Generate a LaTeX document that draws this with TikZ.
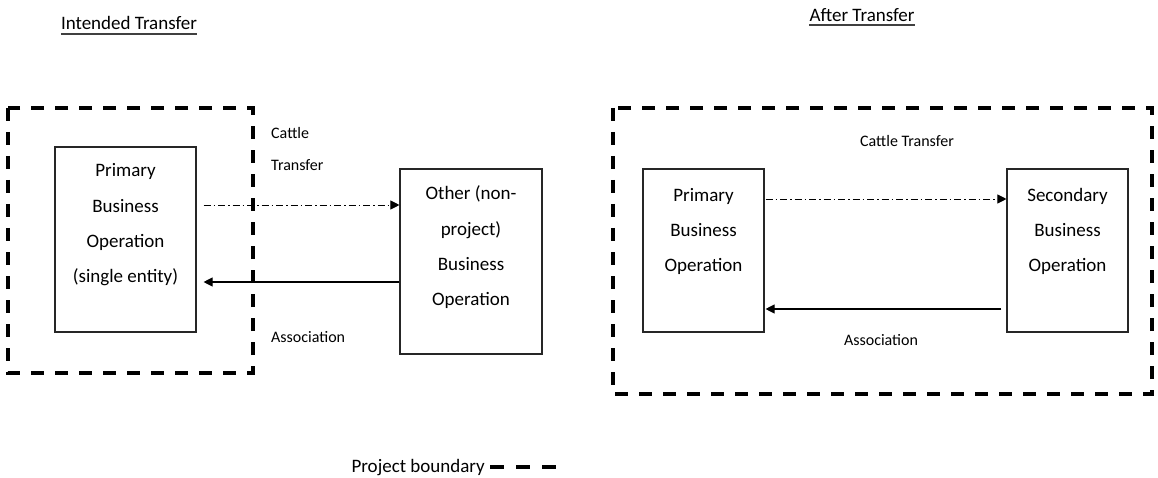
\documentclass[tikz,border=0pt]{standalone}
\usepackage{fontspec}
\setmainfont{Carlito}
\usetikzlibrary{arrows.meta}
\begin{document}
\begin{tikzpicture}[x=1pt,y=-1pt,
  boundary/.style={line width=3.6pt, dash pattern=on 13pt off 11pt},
  opbox/.style={draw=black!85, line width=1.1pt, inner sep=0pt},
  boxtext/.style={align=center, font=\fontsize{19}{35}\selectfont, anchor=base, inner sep=0pt},
  lbl/.style={font=\fontsize{16}{32}\selectfont, inner sep=0pt, anchor=base},
  title/.style={font=\fontsize{19}{22}\selectfont, inner sep=0pt, anchor=base},
  transfer/.style={line width=0.9pt, dash pattern=on 7pt off 3pt on 1.5pt off 3pt, -{Triangle[length=9pt,width=9pt]}},
  assoc/.style={line width=1.1pt, -{Triangle[length=9pt,width=9pt]}},
  uline/.style={line width=1.3pt, black!75}]

\useasboundingbox (0,0) rectangle (1158,478);

% titles
\node[title] (titleA) at (129,30) {Intended Transfer};
\draw[uline] ([yshift=-4pt]titleA.base west) -- ([yshift=-4pt]titleA.base east);
\node[title] (titleB) at (862,22) {After Transfer};
\draw[uline] ([yshift=-3pt]titleB.base west) -- ([yshift=-3pt]titleB.base east);

% project boundaries
\draw[boundary] (8,108) rectangle (253,373);
\draw[boundary] (613,108) rectangle (1152,394);

% operations, intended transfer (text anchored at the baseline of its last line)
\node[opbox, minimum width=141pt, minimum height=185pt] (pbl) at (125.5,239.5) {};
\node[boxtext] (pbltext) at (125.5,282) {Primary\\Business\\Operation\\(single entity)};
\node[opbox, minimum width=142pt, minimum height=185pt] (oth) at (471,261.5) {};
\node[boxtext] (othtext) at (471,305) {Other (non-\\project)\\Business\\Operation};

% operations, after transfer
\node[opbox, minimum width=121pt, minimum height=163pt] (pbr) at (703.5,250.5) {};
\node[boxtext] (pbrtext) at (703.5,271) {Primary\\Business\\Operation};
\node[opbox, minimum width=121pt, minimum height=163pt] (sec) at (1067.5,250.5) {};
\node[boxtext] (sectext) at (1067.5,271) {Secondary\\Business\\Operation};

% arrow levels
\coordinate (t1) at (0,205);
\coordinate (a1) at (0,282);
\coordinate (t2) at (0,199);
\coordinate (a2) at (0,309);

\draw[transfer] ([xshift=7pt]pbl.east |- t1) -- (oth.west |- t1);
\draw[assoc] (oth.west |- a1) -- ([xshift=7pt]pbl.east |- a1);
\draw[transfer] ([xshift=1pt]pbr.east |- t2) -- (sec.west |- t2);
\draw[assoc] ([xshift=-5pt]sec.west |- a2) -- ([xshift=1pt]pbr.east |- a2);

% connector labels
\node[lbl, anchor=base west] (cattleA) at (271,139) {Cattle};
\node[lbl, anchor=base west] (transA) at (271,171) {Transfer};
\node[lbl, anchor=base west] (assocA) at (271,342) {Association};
\node[lbl] (cattleB) at (907,147) {Cattle Transfer};
\node[lbl] (assocB) at (881,345) {Association};

% legend
\node[title, anchor=base east] (legend) at (485,472) {Project boundary};
\draw[boundary, dash pattern=on 14pt off 12pt] (490,467) -- (556,467);
\end{tikzpicture}
\end{document}
